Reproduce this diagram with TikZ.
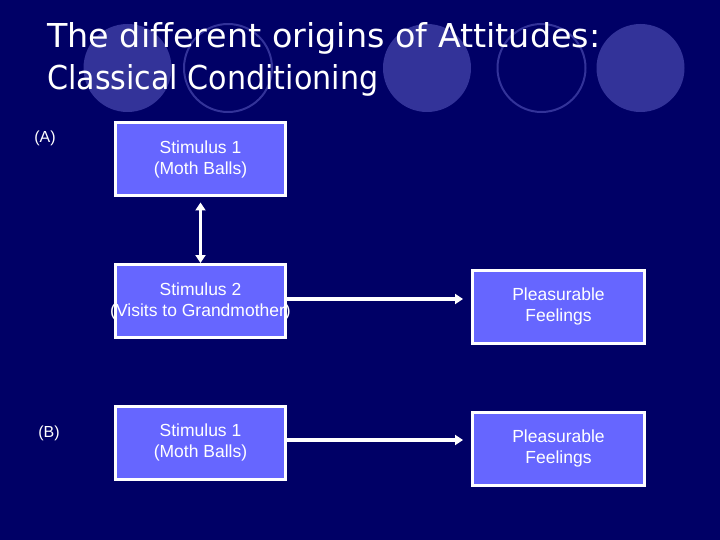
\documentclass[tikz,border=0pt]{standalone}
\usepackage{fontspec}
\setmainfont{Liberation Sans}
\newfontfamily\titlefont{DejaVu Sans}
\usetikzlibrary{arrows.meta}
\definecolor{bgnavy}{RGB}{0,0,102}
\definecolor{circblue}{RGB}{51,51,153}
\definecolor{boxblue}{RGB}{102,102,255}
\begin{document}
\begin{tikzpicture}[x=1pt,y=-1pt,
  stimbox/.style={draw=white,line width=3pt,fill=boxblue,minimum width=170pt,minimum height=73pt,
    inner sep=0pt,align=center,text=white,font=\fontsize{17.5}{21}\selectfont},
  disc/.style={fill=circblue,draw=none},
  ring/.style={draw=circblue,line width=2pt},
  conn/.style={draw=white,line width=3.5pt,-{Triangle[width=10pt,length=8pt]}},
  biconn/.style={draw=white,line width=3.5pt,{Triangle[width=10pt,length=8pt]}-{Triangle[width=10pt,length=8pt]}},
  lbl/.style={text=white,font=\fontsize{16}{19}\selectfont,inner sep=0pt}]
\fill[bgnavy] (0,0) rectangle (720,540);
\useasboundingbox (0,0) rectangle (720,540);
% decorative circles
\fill[disc] (127.5,68) circle (44);
\draw[ring] (228,68) circle (44);
\fill[disc] (427,68) circle (44);
\draw[ring] (541.5,68) circle (44);
\fill[disc] (640.5,68) circle (44);
% title
\node[anchor=base west,inner sep=0pt,text=white] (t1) at (47,48)
  {\resizebox{553pt}{25pt}{\titlefont The different origins of Attitudes:}};
\node[anchor=base west,inner sep=0pt,text=white] (t2) at (47,90)
  {\resizebox{331pt}{25pt}{\titlefont Classical Conditioning}};
% labels
\node[lbl] (la) at (45,138) {(A)};
\node[lbl] (lb) at (49,433) {(B)};
% boxes
\node[stimbox] (A1) at (200.5,159.5) {\makebox[0pt]{Stimulus 1}\\\makebox[0pt]{(Moth Balls)}};
\node[stimbox] (A2) at (200.5,301) {\makebox[0pt]{Stimulus 2}\\\makebox[0pt]{(Visits to Grandmother)}};
\node[stimbox,minimum width=172pt] (PA) at (558.5,306.5) {\makebox[0pt]{Pleasurable}\\\makebox[0pt]{Feelings}};
\node[stimbox] (B1) at (200.5,442.5) {\makebox[0pt]{Stimulus 1}\\\makebox[0pt]{(Moth Balls)}};
\node[stimbox,minimum width=172pt] (PB) at (558.5,448.5) {\makebox[0pt]{Pleasurable}\\\makebox[0pt]{Feelings}};
% connectors
\draw[biconn,shorten <=5pt] (A1.south) -- (A2.north);
\coordinate (a2r) at ([yshift=2pt]A2.east);
\draw[conn,shorten >=8pt] (a2r) -- (a2r -| PA.west);
\coordinate (b1r) at ([yshift=2.5pt]B1.east);
\draw[conn,shorten >=8pt] (b1r) -- (b1r -| PB.west);
\end{tikzpicture}
\end{document}
